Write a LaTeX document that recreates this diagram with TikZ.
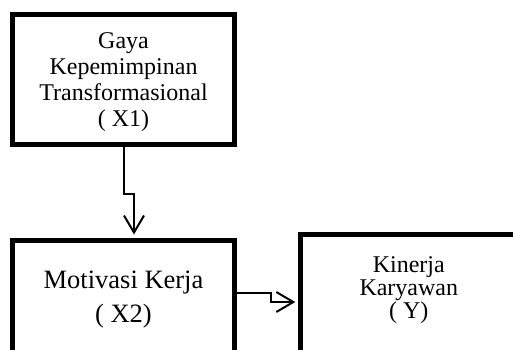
\documentclass[tikz,border=0pt]{standalone}
\usepackage{fontspec}
\setmainfont{Liberation Serif}
\usetikzlibrary{positioning,arrows.meta}

\begin{document}
\begin{tikzpicture}[x=1pt,y=-1pt,
        varbox/.style={draw=black, line width=5pt, align=center, inner sep=0pt},
        link/.style={draw=black, line width=2pt, -{Straight Barb[length=17pt,width=20pt,line width=2pt]}, shorten >=3pt}]
        
        \clip (0,0) rectangle (513,349);
        \useasboundingbox (0,0) rectangle (513,349);
        
        \node[varbox, minimum width=222pt, minimum height=130.5pt, font=\fontsize{24}{26}\selectfont] (gaya) at (123.5,79.25)
                {\rule{0pt}{22pt}Gaya\\Kepemimpinan\\Transformasional\\( X1)};
        \node[varbox, minimum width=222pt, minimum height=120pt, font=\fontsize{26.5}{34}\selectfont] (motivasi) at (123.5,300)
                {Motivasi Kerja\\( X2)};
        \node[varbox, minimum width=216pt, minimum height=124pt, font=\fontsize{24}{23}\selectfont] (kinerja) at (408.8,296)
                {Kinerja\\Karyawan\\( Y)\rule[-17pt]{0pt}{1pt}};
        
        \draw[link] (gaya.south) -- ++(0,46.5) -| ([xshift=10.5pt]motivasi.north);
        \draw[link] ([yshift=7pt]motivasi.east) -- ++(33.5,0) |- ([yshift=-6pt]kinerja.west);

        \end{tikzpicture}
\end{document}
